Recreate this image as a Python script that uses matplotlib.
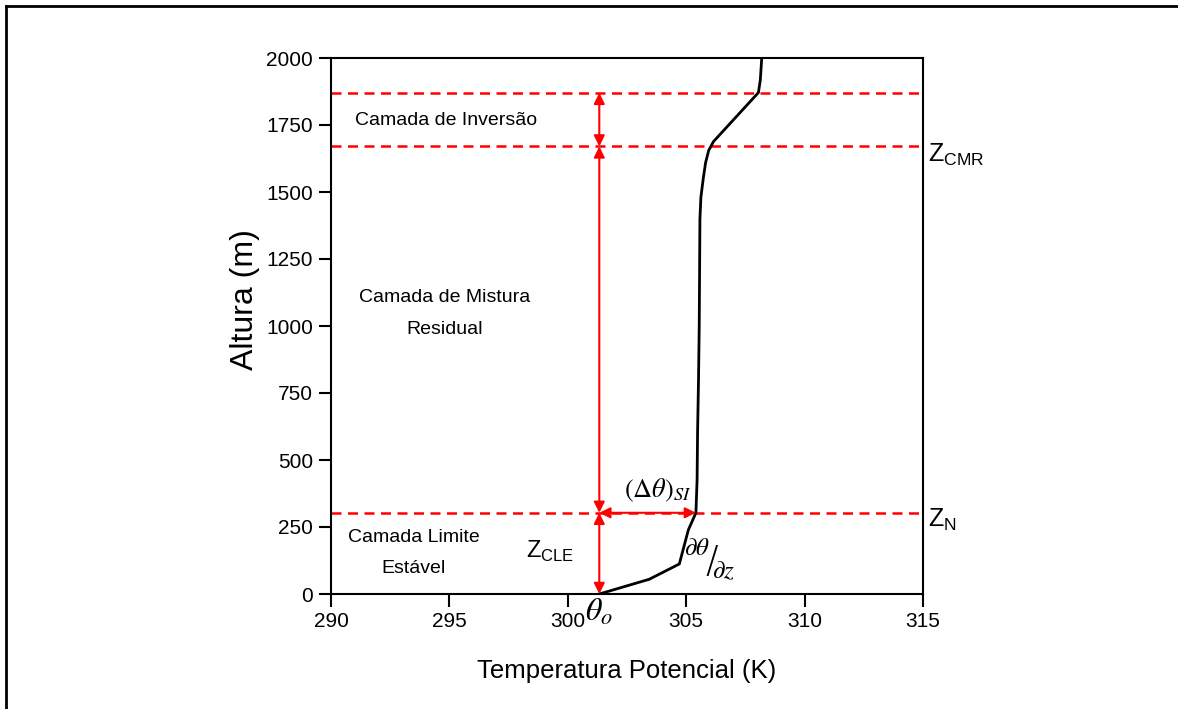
import numpy as np
import matplotlib.pyplot as plt
from matplotlib.lines import Line2D

plt.rcParams['font.family'] = ['Liberation Sans', 'DejaVu Sans']
plt.rcParams['mathtext.fontset'] = 'stix'
plt.rcParams['mathtext.rm'] = 'Liberation Sans'

# perfil de temperatura potencial
theta = [301.33, 303.44, 304.71, 305.09, 305.41, 305.46, 305.48, 305.52, 305.55,
         305.58, 305.62, 305.72, 305.82, 305.95, 306.15, 308.05, 308.13, 308.19]
altura = [0, 55, 112, 239, 303, 425, 600, 800, 1000,
          1400, 1480, 1550, 1610, 1655, 1688, 1871, 1918, 2000]

# niveis das camadas
z_n = 303
z_cmr = 1670
z_inv = 1870
theta_o = 301.33
theta_si = 305.41

fig = plt.figure(figsize=(11.78, 7.09), dpi=100)
ax = fig.add_axes([331 / 1178, 1 - 594 / 709, 592 / 1178, 536 / 709])

ax.plot(theta, altura, color='black', lw=2, zorder=3)

for z in [z_n, z_cmr, z_inv]:
    ax.axhline(z, color='red', lw=1.8, linestyle=(0, (4, 2.6)), zorder=2)

arrow_kw = dict(arrowstyle='<|-|>', color='red', lw=1.5, mutation_scale=16,
                shrinkA=0, shrinkB=0)
ax.annotate('', xy=(theta_o, z_inv), xytext=(theta_o, z_cmr), arrowprops=arrow_kw)
ax.annotate('', xy=(theta_o, z_cmr), xytext=(theta_o, z_n), arrowprops=arrow_kw)
ax.annotate('', xy=(theta_o, z_n), xytext=(theta_o, 0), arrowprops=arrow_kw)
ax.annotate('', xy=(theta_o, z_n), xytext=(theta_si, z_n), arrowprops=arrow_kw)

ax.set_xlim(290, 315)
ax.set_ylim(0, 2000)
ax.set_xticks([290, 295, 300, 305, 310, 315])
ax.set_yticks(np.arange(0, 2001, 250))
ax.tick_params(direction='out', length=9, width=1.5, labelsize=15, pad=4)
for s in ax.spines.values():
    s.set_linewidth(1.5)

ax.set_xlabel('Temperatura Potencial (K)', fontsize=18.5, labelpad=20)
ax.set_ylabel('Altura (m)', fontsize=23, labelpad=10)
ax.yaxis.set_label_coords(-0.12, 0.55)

ax.text(294.85, 1765, 'Camada de Inversão', fontsize=14, ha='center', va='center')
ax.text(294.8, 1045, 'Camada de Mistura\nResidual', fontsize=14, ha='center',
        va='center', linespacing=2.15)
ax.text(293.5, 153, 'Camada Limite\nEstável', fontsize=14, ha='center',
        va='center', linespacing=2.15)
ax.text(299.25, 160, r'$\mathrm{Z}_{\mathrm{CLE}}$', fontsize=17, ha='center',
        va='center', math_fontfamily='custom')
ax.text(303.8, 385, r'$(\Delta\theta)_{SI}$', fontsize=19, ha='center', va='center')
# derivada escrita como fração inclinada
ax.text(305.45, 172, r'$\partial\theta$', fontsize=18, ha='center', va='center')
ax.text(306.08, 122, '/', fontsize=27, ha='center', va='center',
        family='DejaVu Sans', fontweight='light')
ax.text(306.6, 84, r'$\partial z$', fontsize=18, ha='center', va='center')
ax.text(theta_o, -70, r'$\theta_o$', fontsize=23, ha='center', va='center',
        clip_on=False)
ax.text(315.2, z_cmr - 30, r'$\mathrm{Z}_{\mathrm{CMR}}$', fontsize=18, ha='left',
        va='center', clip_on=False, math_fontfamily='custom')
ax.text(315.2, z_n - 25, r'$\mathrm{Z}_{\mathrm{N}}$', fontsize=18, ha='left',
        va='center', clip_on=False, math_fontfamily='custom')

# moldura da figura
fig.add_artist(Line2D([6 / 1178, 6 / 1178], [0, 1 - 6 / 709], color='black', lw=2))
fig.add_artist(Line2D([6 / 1178, 1], [1 - 6 / 709, 1 - 6 / 709], color='black', lw=2))

fig.savefig('out.png', dpi=100)
